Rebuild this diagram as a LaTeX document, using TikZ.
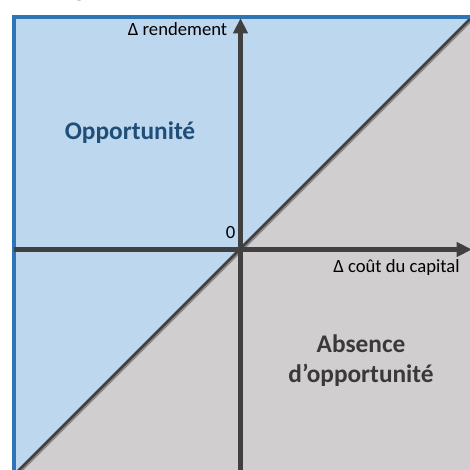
\documentclass[tikz,border=0pt]{standalone}
\usepackage{fontspec}
\setmainfont{Carlito}
\usetikzlibrary{arrows.meta}
\definecolor{boxblue}{HTML}{2E75B6}
\definecolor{fillblue}{HTML}{BDD7EE}
\definecolor{fillgray}{HTML}{D0CECE}
\definecolor{axisgray}{HTML}{404040}
\definecolor{shadowgray}{HTML}{8C8A8A}
\definecolor{darkblue}{HTML}{1F4E79}
\definecolor{textgray}{HTML}{3B3838}
\begin{document}
\begin{tikzpicture}[x=0.75pt,y=-0.75pt,
  axis/.style={axisgray, line width=3.75pt, -{Triangle[length=11.5pt,width=10.5pt]}},
  axislabel/.style={inner sep=0pt, font=\fontsize{14}{17}\selectfont, text=black},
  regionlabel/.style={inner sep=0pt, font=\bfseries\fontsize{19}{22.5}\selectfont, align=center}]
\useasboundingbox (0,0) rectangle (469,470);
% cut-off title fragment
\node[inner sep=0pt, anchor=base west, font=\bfseries\fontsize{20}{24}\selectfont] (title) at (75.5,-3) {p};
% regions
\fill[fillgray] (14,17) rectangle (490,490);
\fill[fillblue] (14,17) -- (472,17) -- (14,475) -- cycle;
% diagonal
\begin{scope}
\clip (14,17) rectangle (490,490);
\draw[shadowgray, line width=1.6pt] (15.5,476.5) -- (476.5,15.5);
\draw[axisgray, line width=2pt] (10,479) -- (479,10);
\end{scope}
% border
\draw[boxblue, line width=3pt] (490,17) -- (14,17) -- (14,490);
% axes
\coordinate (O) at (240.5,249.5);
\coordinate (xleft) at (14,249.5);
\coordinate (xright) at (472,249.5);
\coordinate (ybot) at (240.5,490);
\coordinate (ytop) at (240.5,18);
\draw[axis] (xleft) -- (xright);
\draw[axis] (ybot) -- (ytop);
% labels
\node[axislabel, anchor=base east] (ylab) at (227.5,36) {Δ rendement};
\node[axislabel, anchor=base east] (xlab) at (460,272) {Δ coût du capital};
\node[axislabel, anchor=base east] (zero) at (235.5,238) {0};
\node[regionlabel, text=darkblue, anchor=base] (opp) at (130,140) {Opportunité};
\node[regionlabel, text=textgray, anchor=base] (abs1) at (361,352) {Absence};
\node[regionlabel, text=textgray, anchor=base] (abs2) at (361,382) {d’opportunité};
\end{tikzpicture}
\end{document}
